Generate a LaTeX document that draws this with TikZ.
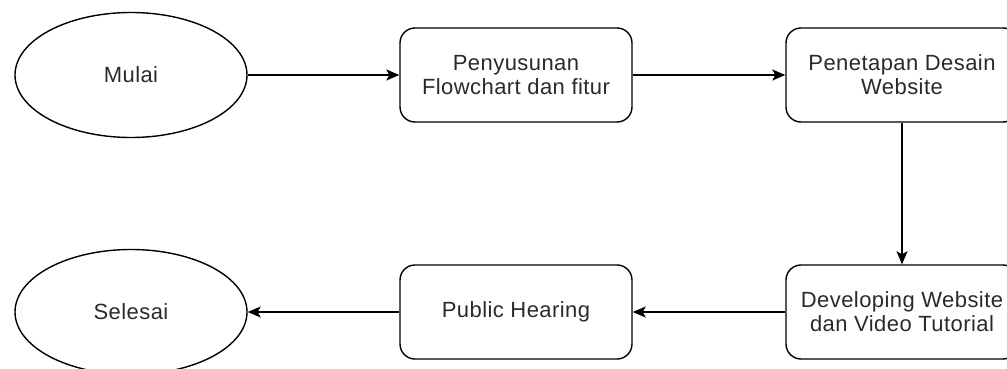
\documentclass[tikz,border=0pt]{standalone}
\usepackage{fontspec}
\setmainfont{Liberation Sans}[LetterSpace=2]
\usetikzlibrary{shapes.geometric,arrows.meta}
\definecolor{txt}{HTML}{2a2a2a}
\begin{document}
\begin{tikzpicture}[x=1pt,y=-1pt,
  base/.style={draw=black,line width=1.4pt,text=txt,align=center,inner sep=0pt,
    font=\fontsize{22pt}{24pt}\selectfont},
  term/.style={base,ellipse,minimum width=232pt,minimum height=125pt},
  proc/.style={base,rectangle,rounded corners=15pt,minimum width=232pt,minimum height=94pt},
  flow/.style={line width=1.4pt,-{Stealth[length=13pt,width=11pt,inset=3pt]}}]
\useasboundingbox (0,0) rectangle (1007,369);
\node[term] (mulai) at (131,75) {Mulai};
\node[proc] (pen) at (516,75) {Penyusunan\\Flowchart dan fitur};
\node[proc] (penet) at (902,75) {Penetapan Desain\\Website};
\node[proc] (dev) at (902,312) {Developing Website\\dan Video Tutorial};
\node[proc] (ph) at (516,312) {Public Hearing};
\node[term] (sel) at (131,312) {Selesai};
\draw[flow] (mulai) -- (pen);
\draw[flow] (pen) -- (penet);
\draw[flow] (penet) -- (dev);
\draw[flow] (dev) -- (ph);
\draw[flow] (ph) -- (sel);
\end{tikzpicture}
\end{document}
